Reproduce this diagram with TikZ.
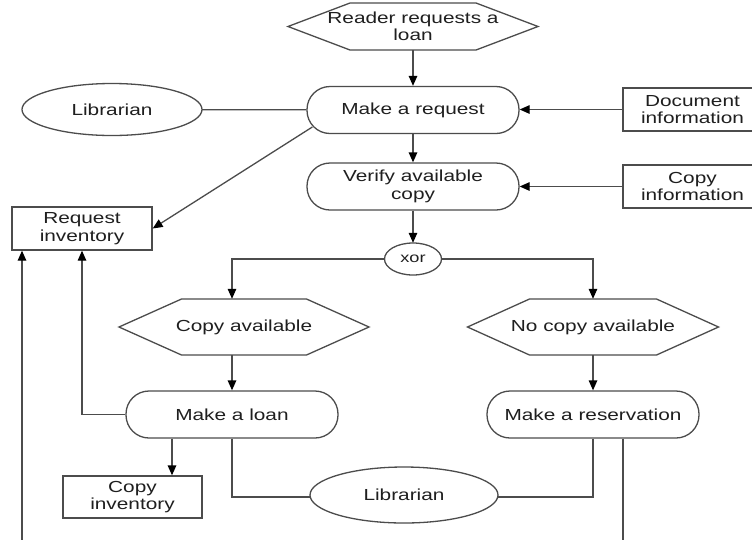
\documentclass[tikz,border=0pt]{standalone}
\usepackage{fontspec}
\setmainfont{Liberation Sans}[FakeStretch=1.3]
\usetikzlibrary{shapes.geometric,arrows.meta,calc}
% #1 node name, #2 half flat width, #3 half height, #4 point depth
\newcommand\hexpath[4]{\draw[ln] ($(#1.center)+(-#2,-#3)$) -- ($(#1.center)+(#2,-#3)$) -- ($(#1.center)+(#2+#4,0)$) -- ($(#1.center)+(#2,#3)$) -- ($(#1.center)+(-#2,#3)$) -- ($(#1.center)+(-#2-#4,0)$) -- cycle;}
% #1 node name, #2 x radius, #3 y radius
\newcommand\ellpath[3]{\draw[ln] (#1.center) ellipse [x radius=#2pt, y radius=#3pt];}
\begin{document}
\begin{tikzpicture}[x=1pt,y=-1pt,
  every node/.style={font=\fontsize{16}{17.5}\selectfont, text=black!88, align=center, inner sep=0pt},
  ln/.style={draw=black!70, line width=1.3pt},
  arr/.style={ln, -{Triangle[length=10pt,width=8.5pt,color=black]}},
  stad/.style={ln, rectangle, rounded corners=23pt, minimum width=212pt, minimum height=47pt},
  box/.style={ln, rectangle, minimum width=139pt, minimum height=43pt},
  shp/.style={rectangle, minimum width=#1}
]
\useasboundingbox (0,0) rectangle (752,539);
\fill[white] (0,0) rectangle (752,539);
% nodes
\node[minimum height=47pt] (reader) at (413,26.5) {Reader requests a\\loan};
\hexpath{reader}{63}{23.5}{62}
\node[stad] (request) at (413,110) {Make a request};
\node[stad] (verify) at (413,186.5) {Verify available\\copy};
\node[shp=180pt, minimum height=52pt] (lib1) at (112,109.5) {Librarian};
\ellpath{lib1}{90}{26}
\node[box] (doc) at (692.5,109.5) {Document\\information};
\node[box] (cinfo) at (692.5,186.5) {Copy\\information};
\node[box, minimum width=140pt] (reqinv) at (82,228.5) {Request\\inventory};
\node[shp=57pt, minimum height=32pt, font=\fontsize{14}{16}\selectfont] (xor) at (413,259) {xor};
\ellpath{xor}{28.5}{16}
\node[minimum height=56pt] (ca) at (244,327) {Copy available};
\hexpath{ca}{62.5}{28}{62.5}
\node[minimum height=56pt] (nca) at (593,327) {No copy available};
\hexpath{nca}{63.5}{28}{62}
\node[stad] (loan) at (232,414.5) {Make a loan};
\node[stad] (res) at (593,414.5) {Make a reservation};
\node[box, minimum height=42pt] (cinv) at (132.5,497) {Copy\\inventory};
\node[shp=188pt, minimum height=56pt] (lib2) at (404,495) {Librarian};
\ellpath{lib2}{94}{28}
\coordinate (bot) at (0,545);
\coordinate (bl) at (22,545);
\coordinate (rt) at ($(res.south)+(30,0)$);
\coordinate (lt) at ($(loan.south)+(-60,0)$);
% connectors
\draw[arr] (reader) -- (request);
\draw[ln] (lib1) -- (request);
\draw[arr] (doc.west) -- (doc.west -| request.east);
\draw[arr] (request) -- (verify);
\draw[arr] (cinfo.west) -- (cinfo.west -| verify.east);
\draw[arr] ($(request.west)+(6,17)$) -- (reqinv.east);
\draw[arr] (verify) -- (xor);
\draw[arr] (xor.west) -| (loan.north |- ca.north);
\draw[arr] (xor.east) -| (nca.north);
\draw[arr] (loan.north |- ca.south) -- (loan.north);
\draw[arr] (nca.south) -- (res.north);
\draw[arr] (loan.west) -| (reqinv.south);
\draw[arr] (lt) -- (lt |- cinv.north);
\draw[ln] (loan.south) |- ($(lib2.west)+(0,2)$);
\draw[ln] (res.south) |- ($(lib2.east)+(0,2)$);
\draw[ln] (rt) -- (rt |- bot);
\draw[arr] (bl) -- (bl |- reqinv.south);
\end{tikzpicture}
\end{document}
